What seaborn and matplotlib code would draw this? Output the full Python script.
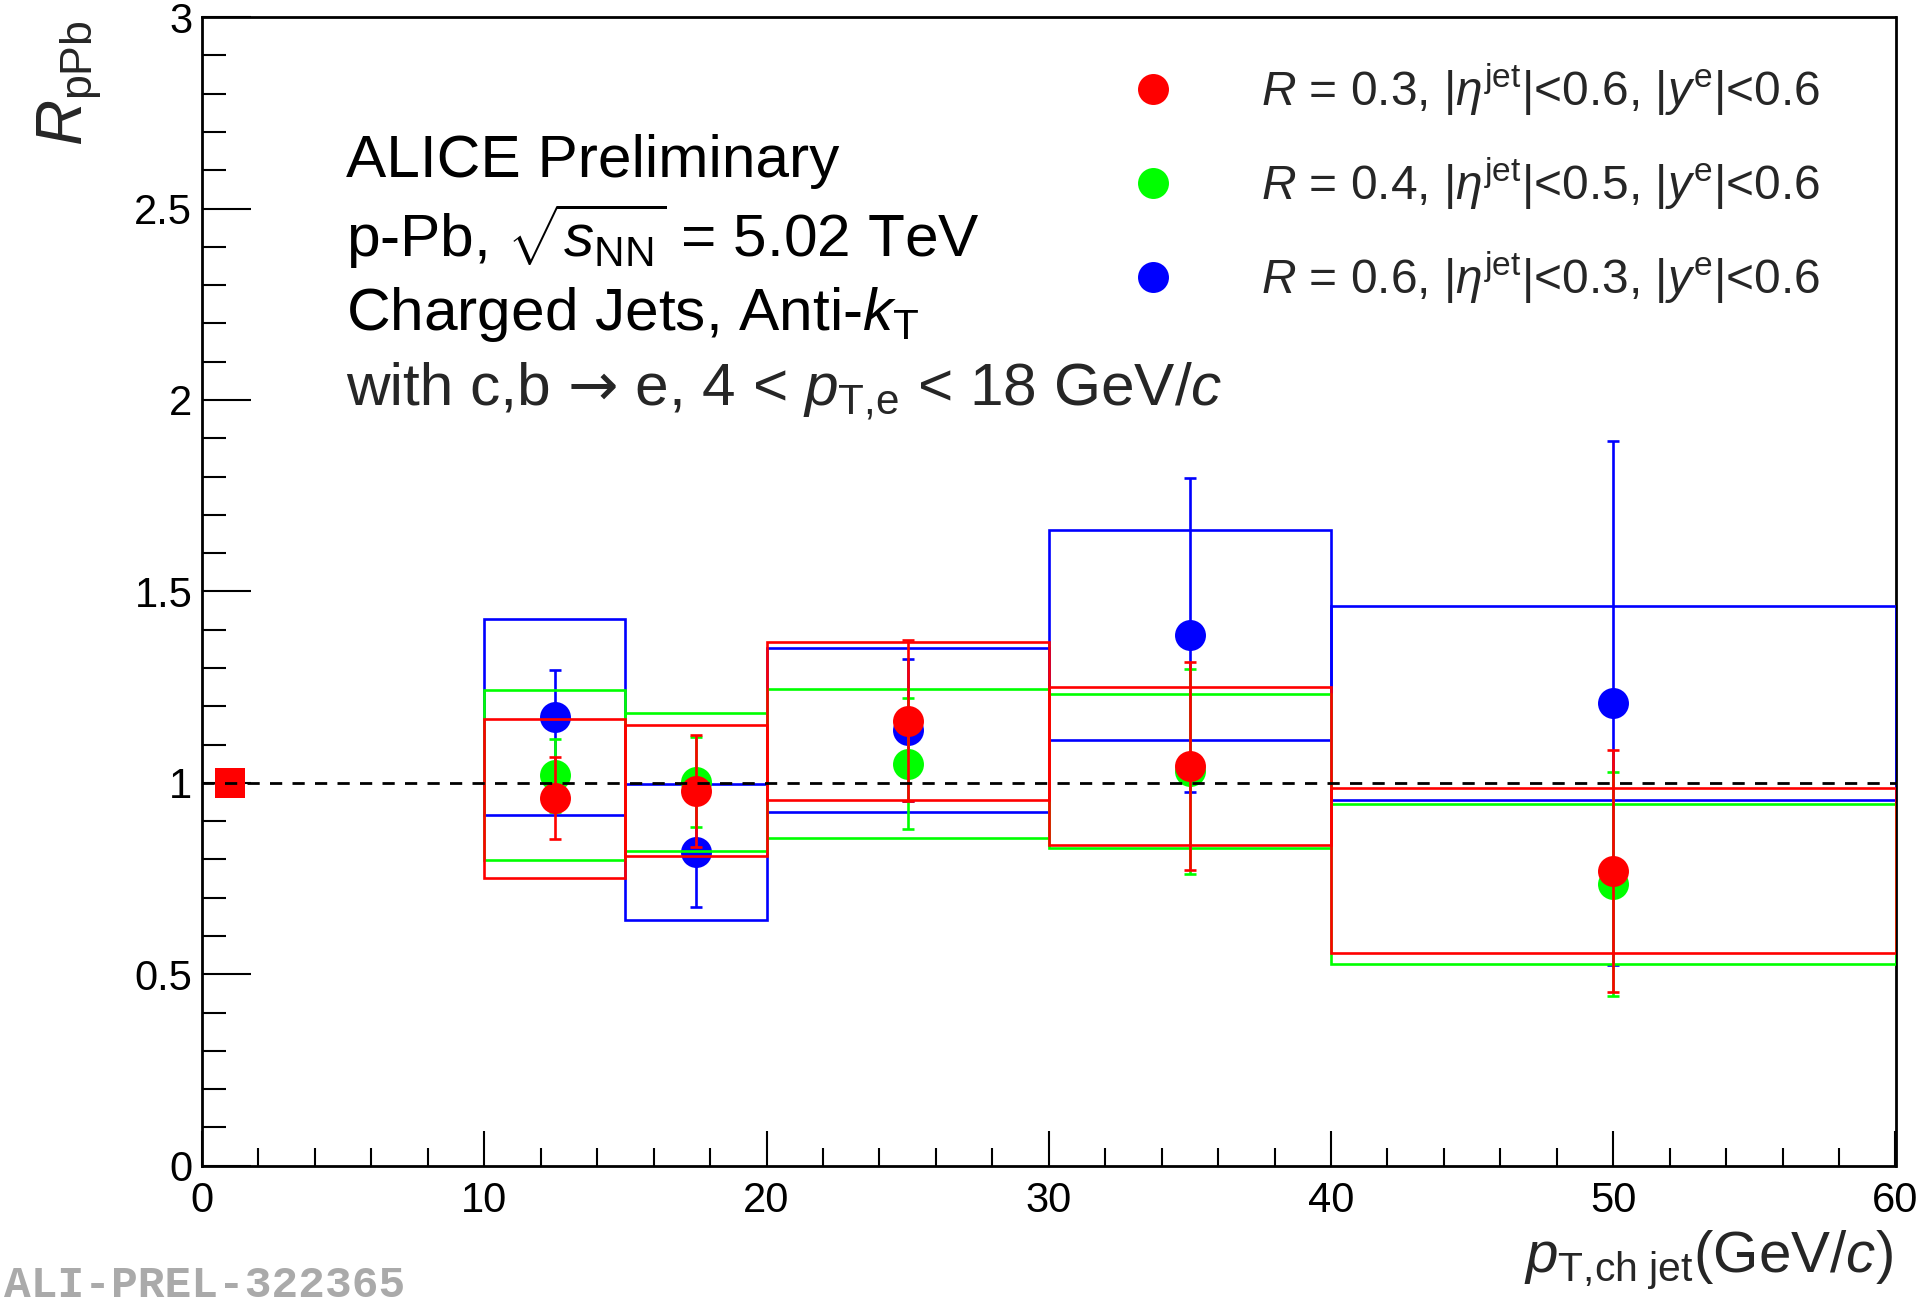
import numpy as np
import pandas as pd
import matplotlib
matplotlib.use("Agg")
import matplotlib.pyplot as plt
from matplotlib.patches import Rectangle
from matplotlib.lines import Line2D
import seaborn as sns

# ---------------- data ----------------
bin_edges = [10, 15, 20, 30, 40, 60]
bin_centers = [12.5, 17.5, 25, 35, 50]

series_keys = ["R06", "R04", "R03"]          # drawing order (red on top)
series_colors = {"R03": "#ff0000", "R04": "#00ff00", "R06": "#0000ff"}
legend_order = ["R03", "R04", "R06"]
legend_labels = {
    "R03": r"$R$ = 0.3, |$\eta^{\mathrm{jet}}$|<0.6, |$y^{\mathrm{e}}$|<0.6",
    "R04": r"$R$ = 0.4, |$\eta^{\mathrm{jet}}$|<0.5, |$y^{\mathrm{e}}$|<0.6",
    "R06": r"$R$ = 0.6, |$\eta^{\mathrm{jet}}$|<0.3, |$y^{\mathrm{e}}$|<0.6",
}

r03_val = [0.960, 0.979, 1.162, 1.044, 0.770]
r03_stat = [0.108, 0.146, 0.210, 0.272, 0.317]
r03_sys = [0.208, 0.171, 0.207, 0.207, 0.2155]

r04_val = [1.020, 1.003, 1.050, 1.030, 0.736]
r04_stat = [0.095, 0.118, 0.171, 0.267, 0.292]
r04_sys = [0.222, 0.180, 0.194, 0.201, 0.209]

r06_val = [1.172, 0.820, 1.138, 1.386, 1.208]
r06_stat = [0.124, 0.144, 0.185, 0.410, 0.685]
r06_sys = [0.257, 0.177, 0.213, 0.2745, 0.2535]

norm_x = [1.0]
norm_y = [1.0]

x_ticks = [0, 10, 20, 30, 40, 50, 60]
x_tick_labels = ["0", "10", "20", "30", "40", "50", "60"]
y_ticks = [0, 0.5, 1, 1.5, 2, 2.5, 3]
y_tick_labels = ["0", "0.5", "1", "1.5", "2", "2.5", "3"]

text_lines = [
    "ALICE Preliminary",
    r"p-Pb, $\sqrt{s_{\mathrm{NN}}}$ = 5.02 TeV",
    r"Charged Jets, Anti-$k_{\mathrm{T}}$",
]
text_line4 = ["with c,b ", "→", r" e, 4 < $p_{\mathrm{T{,}e}}$ < 18 GeV/$c$"]
xlabel = r"$p_{\mathrm{T{,}ch\ jet}}$(GeV/$c$)"
ylabel = r"$R_{\mathrm{pPb}}$"
tag = "ALI-PREL-322365"

rows = []
for key, vals, stats, syss in [("R03", r03_val, r03_stat, r03_sys),
                               ("R04", r04_val, r04_stat, r04_sys),
                               ("R06", r06_val, r06_stat, r06_sys)]:
    for i, (v, st, sy) in enumerate(zip(vals, stats, syss)):
        rows.append(dict(series=key, pt=bin_centers[i], lo=bin_edges[i], hi=bin_edges[i + 1],
                         val=v, stat=st, sys=sy))
df = pd.DataFrame(rows)

# ---------------- style ----------------
sns.set_theme(style="ticks")
plt.rcParams["font.family"] = ["Liberation Sans", "DejaVu Sans"]
plt.rcParams["mathtext.fontset"] = "custom"
plt.rcParams["mathtext.rm"] = "Liberation Sans"
plt.rcParams["mathtext.it"] = "Liberation Sans:italic"
plt.rcParams["mathtext.bf"] = "Liberation Sans:bold"
plt.rcParams["mathtext.sf"] = "Liberation Sans"

W, H = 1920, 1307
fig = plt.figure(figsize=(W / 100, H / 100), dpi=100)
ax_left, ax_right = 202 / W, 1895.5 / W
ax_bottom, ax_top = 1 - 1165.7 / H, 1 - 17.1 / H
ax = fig.add_axes([ax_left, ax_bottom, ax_right - ax_left, ax_top - ax_bottom])
ax.set_facecolor("white")
fig.patch.set_facecolor("white")

lw = 1.9
for k, key in enumerate(series_keys):
    sub = df[df.series == key]
    c = series_colors[key]
    z = 3 + 3 * k
    for _, r in sub.iterrows():
        ax.add_patch(Rectangle((r.lo, r.val - r.sys), r.hi - r.lo, 2 * r.sys,
                               fill=False, edgecolor=c, lw=lw, zorder=z))
    ax.errorbar(sub.pt, sub.val, yerr=sub.stat, fmt="none", ecolor=c,
                elinewidth=lw, capsize=4.3, capthick=lw, zorder=z + 1)
    sns.scatterplot(data=sub, x="pt", y="val", color=c, s=497, linewidth=0,
                    ax=ax, zorder=z + 2, legend=False)

norm_df = pd.DataFrame(dict(x=norm_x, y=norm_y))
sns.scatterplot(data=norm_df, x="x", y="y", marker="s", color="#ff0000", s=437,
                linewidth=0, ax=ax, zorder=20, legend=False)

ax.axhline(1.0, color="black", lw=2, ls=(0, (4.4, 3.7)), zorder=25)

ax.set_xlim(0, 60)
ax.set_ylim(0, 3)
ax.set_xticks(x_ticks)
ax.set_xticklabels(x_tick_labels)
ax.set_yticks(y_ticks)
ax.set_yticklabels(y_tick_labels)
ax.set_xticks(np.arange(0, 61, 2), minor=True)
ax.set_yticks(np.arange(0, 3.01, 0.1), minor=True)
ax.tick_params(axis="both", which="both", direction="in", top=False, right=False,
               width=1.5, color="black", labelsize=30, labelcolor="black")
ax.tick_params(axis="y", which="major", length=35, pad=7)
ax.tick_params(axis="y", which="minor", length=17.5)
ax.tick_params(axis="x", which="major", length=25, pad=11)
ax.tick_params(axis="x", which="minor", length=13)
for s in ax.spines.values():
    s.set_visible(True)
    s.set_linewidth(2)
    s.set_color("black")
ax.set_xlabel("")
ax.set_ylabel("")
ax.grid(False)

# text block
baselines = [0.8611, 0.7914, 0.7276, 0.6623]
tx = 0.0849
for t, yb in zip(text_lines, baselines[:3]):
    ax.text(tx, yb, t, transform=ax.transAxes, fontsize=43.5, ha="left",
            va="baseline", color="black", zorder=30)
t1 = ax.text(tx, baselines[3], text_line4[0], transform=ax.transAxes, fontsize=43.5,
             ha="left", va="baseline", zorder=30)
t2 = ax.annotate(text_line4[1], xy=(1.0, baselines[3]), xycoords=(t1, ax.transAxes),
                 fontsize=43.5, family=["DejaVu Sans"], ha="left", va="baseline", zorder=30)
t3 = ax.annotate(text_line4[2], xy=(1.0, baselines[3]), xycoords=(t2, ax.transAxes),
                 fontsize=43.5, ha="left", va="baseline", zorder=30)

# legend
handles = [Line2D([], [], ls="none", marker="o", markersize=22.3,
                  markerfacecolor=series_colors[k], markeredgewidth=0)
           for k in legend_order]
leg = ax.legend(handles, [legend_labels[k] for k in legend_order],
                loc="upper left", bbox_to_anchor=(0.5475, 0.9615), frameon=False,
                fontsize=34.5, handlelength=1.0, handletextpad=1.75,
                labelspacing=0.78, borderpad=0, borderaxespad=0)

fig.text(1893 / W, 1 - 1272 / H, xlabel, fontsize=42, ha="right", va="baseline")
fig.text(70 / W, 1 - 20 / H, ylabel, fontsize=46, rotation=90, ha="center", va="top")
fig.text(4 / W, 1 - 1297 / H, tag, fontsize=32, family="Liberation Mono",
         weight="bold", color="#aaaaaa", ha="left", va="baseline")

fig.savefig("out.png", dpi=100, facecolor="white")
